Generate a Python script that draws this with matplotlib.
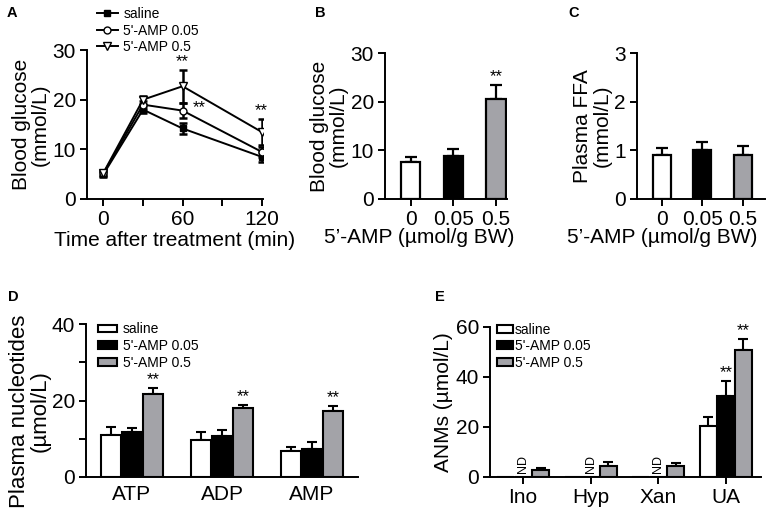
import matplotlib
matplotlib.use("Agg")
import matplotlib.pyplot as plt
import numpy as np
from matplotlib.lines import Line2D

plt.rcParams['font.family'] = ['Liberation Sans', 'DejaVu Sans']
plt.rcParams['axes.linewidth'] = 1.4
plt.rcParams['xtick.major.width'] = 1.4
plt.rcParams['ytick.major.width'] = 1.4

# ---- Data ----
time_min = [0, 30, 60, 120]
glc_saline = [5.0, 18.0, 14.2, 8.5]
glc_saline_err = [0.5, 0.7, 1.2, 1.0]
glc_005 = [5.2, 19.0, 17.8, 9.5]
glc_005_err = [0.5, 0.8, 1.5, 1.0]
glc_05 = [5.3, 20.0, 22.7, 13.5]
glc_05_err = [0.5, 0.8, 3.3, 2.7]

dose_labels = ['0', '0.05', '0.5']
bg_values = [7.7, 8.8, 20.6]
bg_err = [0.9, 1.4, 2.9]
ffa_values = [0.9, 1.0, 0.9]
ffa_err = [0.15, 0.18, 0.18]

nuc_labels = ['ATP', 'ADP', 'AMP']
nuc_saline = [11.1, 9.6, 6.7]
nuc_saline_err = [1.9, 2.1, 1.1]
nuc_005 = [11.7, 10.6, 7.4]
nuc_005_err = [1.1, 1.8, 1.7]
nuc_05 = [21.7, 18.0, 17.3]
nuc_05_err = [1.6, 0.7, 1.2]

anm_labels = ['Ino', 'Hyp', 'Xan', 'UA']
anm_saline = [np.nan, np.nan, np.nan, 20.6]
anm_saline_err = [0, 0, 0, 3.4]
anm_005 = [np.nan, np.nan, np.nan, 32.5]
anm_005_err = [0, 0, 0, 5.9]
anm_05 = [2.7, 4.6, 4.6, 51.0]
anm_05_err = [1.0, 1.5, 1.0, 4.2]

group_names = ['saline', "5'-AMP 0.05", "5'-AMP 0.5"]
GRAY = '#a3a3a8'
FS = 15
STAR = 12

W, H = 766, 509
fig = plt.figure(figsize=(W / 100, H / 100), dpi=100)

def ax_px(l, r, t, b):
    return fig.add_axes([l / W, 1 - b / H, (r - l) / W, (b - t) / H])

def style(ax):
    for s in ['top', 'right']:
        ax.spines[s].set_visible(False)
    ax.tick_params(labelsize=FS, length=5, pad=3)

# ---- A ----
axA = ax_px(87, 263, 50, 199)
style(axA)
ebkw = dict(capsize=3, elinewidth=1.8, capthick=1.8, color='black', lw=1.4)
line_styles = [dict(marker='s', ms=5, mfc='black', mec='black'),
               dict(marker='o', ms=5, mfc='white', mec='black'),
               dict(marker='v', ms=5.5, mfc='white', mec='black')]
for vals, errs, st in zip([glc_saline, glc_005, glc_05],
                          [glc_saline_err, glc_005_err, glc_05_err], line_styles):
    axA.errorbar(time_min, vals, yerr=errs, **st, **ebkw)
axA.set_xlim(-12.5, 121)
axA.set_ylim(0, 30)
axA.set_xticks([0, 30, 60, 90, 120])
axA.set_xticklabels(['0', '', '60', '', '120'])
axA.set_yticks([0, 10, 20, 30])
axA.set_ylabel('Blood glucose\n(mmol/L)', fontsize=FS, labelpad=2, linespacing=1.0)
axA.set_xlabel('Time after treatment (min)', fontsize=FS, labelpad=1)
axA.text(60, glc_05[2] + glc_05_err[2] + 0.1, '**', ha='center', va='bottom', fontsize=STAR)
axA.text(68, glc_005[2] - 1.0, '**', ha='left', va='bottom', fontsize=STAR)
axA.text(120, glc_05[3] + glc_05_err[3] + 0.1, '**', ha='center', va='bottom', fontsize=STAR)
handles = [Line2D([], [], color='black', lw=1.4, **st) for st in line_styles]
axA.legend(handles, group_names, loc='upper left', bbox_to_anchor=(0.057, 1.29), frameon=False,
           fontsize=10, handlelength=1.5, handletextpad=0.4, labelspacing=0.2,
           borderaxespad=0, borderpad=0)

# ---- B & C ----
def dose_bars(ax, vals, errs, xright, label_x):
    x = np.arange(len(vals))
    ax.bar(x, vals, width=0.45, color=['white', 'black', GRAY],
           edgecolor='black', linewidth=1.6, zorder=2)
    ax.errorbar(x, vals, yerr=[np.zeros(len(vals)), errs], fmt='none',
                ecolor='black', elinewidth=1.6, capsize=4, capthick=1.6, zorder=1)
    ax.set_xticks(x)
    ax.set_xticklabels(dose_labels)
    ax.set_xlim(-0.61, xright)
    ax.set_xlabel("5’-AMP (µmol/g BW)", fontsize=FS, labelpad=2)
    ax.xaxis.set_label_coords(label_x, -0.2)

axB = ax_px(385, 507, 53, 199)
style(axB)
dose_bars(axB, bg_values, bg_err, 2.26, 0.28)
axB.set_ylim(0, 30)
axB.set_yticks([0, 10, 20, 30])
axB.set_ylabel('Blood glucose\n(mmol/L)', fontsize=FS, labelpad=2, linespacing=1.0)
axB.text(2, bg_values[2] + bg_err[2] + 0.1, '**', ha='center', va='bottom', fontsize=STAR)

axC = ax_px(637, 765, 53, 199)
style(axC)
dose_bars(axC, ffa_values, ffa_err, 2.55, 0.2)
axC.set_ylim(0, 3)
axC.set_yticks([0, 1, 2, 3])
axC.set_ylabel('Plasma FFA\n(mmol/L)', fontsize=FS, labelpad=2, linespacing=1.0)

# ---- grouped bars ----
def grouped(ax, series, errs, width, offset):
    n = len(series[0])
    x = np.arange(n)
    colors = ['white', 'black', GRAY]
    for i, (s, e) in enumerate(zip(series, errs)):
        xi = x + (i - 1) * offset
        s = np.array(s, dtype=float)
        e = np.array(e, dtype=float)
        ax.bar(xi, np.nan_to_num(s), width=width, color=colors[i], edgecolor='black',
               linewidth=1.5, zorder=2, label=group_names[i])
        m = ~np.isnan(s)
        ax.errorbar(xi[m], s[m], yerr=[np.zeros(m.sum()), e[m]], fmt='none',
                    ecolor='black', elinewidth=1.5, capsize=3.5, capthick=1.5, zorder=1)
    return x

axD = ax_px(86, 358, 324, 477)
style(axD)
xD = grouped(axD, [nuc_saline, nuc_005, nuc_05], [nuc_saline_err, nuc_005_err, nuc_05_err], 0.22, 0.235)
axD.set_xticks(xD)
axD.set_xticklabels(nuc_labels)
axD.tick_params(axis='x', length=0, pad=6)
axD.set_xlim(-0.51, 2.51)
axD.set_ylim(0, 40)
axD.set_yticks([0, 10, 20, 30, 40])
axD.set_yticklabels(['0', '', '20', '', '40'])
axD.set_ylabel('Plasma nucleotides\n(µmol/L)', fontsize=16, labelpad=2, linespacing=1.0)
axD.yaxis.set_label_coords(-0.13, 0.43)
for i in range(3):
    axD.text(i + 0.235, nuc_05[i] + nuc_05_err[i] + 0.3, '**', ha='center', va='bottom', fontsize=STAR)
axD.legend(loc='upper left', bbox_to_anchor=(0.044, 1.01), frameon=False, fontsize=10,
           handlelength=1.4, handleheight=0.5, handletextpad=0.4, labelspacing=0.2,
           borderaxespad=0, borderpad=0)

axE = ax_px(490, 761, 327, 477)
style(axE)
xE = grouped(axE, [anm_saline, anm_005, anm_05], [anm_saline_err, anm_005_err, anm_05_err], 0.25, 0.26)
axE.set_xticks(xE)
axE.set_xticklabels(anm_labels)
axE.set_xlim(-0.49, 3.52)
axE.set_ylim(0, 60)
axE.set_yticks([0, 20, 40, 60])
axE.set_ylabel('ANMs (µmol/L)', fontsize=FS, labelpad=2)
for i in range(3):
    axE.text(i, 1.5, 'ND', rotation=90, ha='center', va='bottom', fontsize=9)
axE.text(3, anm_005[3] + anm_005_err[3] + 0.5, '**', ha='center', va='bottom', fontsize=STAR)
axE.text(3.26, anm_05[3] + anm_05_err[3] + 0.5, '**', ha='center', va='bottom', fontsize=STAR)
axE.legend(loc='upper left', bbox_to_anchor=(0.026, 1.03), frameon=False, fontsize=10,
           handlelength=1.15, handleheight=0.5, handletextpad=0.15, labelspacing=0.2,
           borderaxespad=0, borderpad=0)

# ---- panel letters ----
for letter, (px, py) in {'A': (7, 13), 'B': (315, 13), 'C': (568, 13),
                         'D': (8, 297), 'E': (435, 297)}.items():
    fig.text(px / W, 1 - py / H, letter, fontsize=10.5, fontweight='bold', ha='left', va='center')

fig.savefig('out.png', dpi=100)
